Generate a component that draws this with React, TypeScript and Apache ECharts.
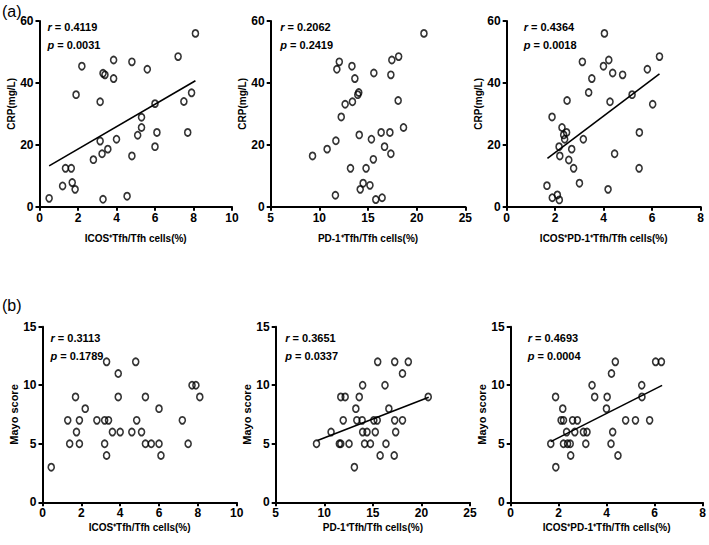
import React, { useEffect, useRef } from 'react';
import * as echarts from 'echarts';

// ---------- data ----------
// (a) CRP vs ICOS+ Tfh/Tfh
const crpIcos: number[][] = [
  [0.5, 2.7], [1.2, 6.7], [1.35, 12.4], [1.65, 12.4], [1.7, 7.8], [1.85, 5.6], [1.9, 36.2], [2.2, 45.4],
  [2.8, 15.2], [3.15, 33.9], [3.15, 21.2], [3.25, 17.1], [3.3, 2.4], [3.3, 43.1], [3.4, 42.6], [3.55, 18.6],
  [3.85, 47.4], [3.85, 41.4], [4.0, 21.8], [4.55, 3.4], [4.8, 16.4], [4.8, 46.8], [5.1, 23.1], [5.3, 25.6],
  [5.3, 28.9], [5.6, 44.4], [6.0, 19.4], [6.0, 33.3], [6.1, 24.0], [7.2, 48.5], [7.5, 34.0], [7.7, 24.0],
  [7.9, 36.8], [8.1, 56.0],
];
const crpIcosFit: number[][] = [[0.5, 13.2], [8.1, 40.7]];

// (a) CRP vs PD-1+ Tfh/Tfh
const crpPd1: number[][] = [
  [9.3, 16.4], [10.8, 18.6], [11.7, 21.3], [11.65, 3.7], [11.8, 44.4], [12.05, 46.8], [12.25, 29.0],
  [12.65, 33.1], [13.2, 12.4], [13.35, 45.4], [13.4, 33.9], [13.65, 41.4], [13.95, 36.2], [14.05, 36.9],
  [14.1, 23.2], [14.2, 5.6], [14.5, 7.6], [14.8, 12.4], [15.2, 6.9], [15.35, 21.8], [15.55, 15.3],
  [15.6, 43.2], [15.8, 2.3], [16.35, 24.0], [16.45, 2.9], [16.7, 19.4], [17.25, 24.0], [17.35, 42.6],
  [17.35, 17.1], [17.45, 47.4], [18.15, 48.5], [18.1, 34.3], [18.65, 25.6], [20.75, 56.0],
];

// (a) CRP vs ICOS+PD-1+ Tfh/Tfh
const crpDouble: number[][] = [
  [1.66, 6.8], [1.88, 2.9], [1.87, 29.0], [2.09, 3.8], [2.16, 19.4], [2.17, 2.2], [2.19, 16.4], [2.28, 25.6],
  [2.35, 23.2], [2.39, 21.8], [2.47, 24.0], [2.49, 34.3], [2.56, 15.1], [2.68, 18.6], [2.76, 12.4], [3.0, 7.6],
  [3.12, 46.8], [3.16, 21.8], [3.38, 36.9], [3.51, 41.4], [3.99, 45.4], [4.03, 56.0], [4.18, 5.6], [4.21, 47.4],
  [4.26, 33.9], [4.37, 43.2], [4.45, 17.1], [4.78, 42.6], [5.17, 36.2], [5.46, 12.4], [5.47, 24.0], [5.8, 44.4],
  [6.02, 33.1], [6.3, 48.5],
];
const crpDoubleFit: number[][] = [[1.68, 15.6], [6.3, 42.9]];

// (b) Mayo vs ICOS+ Tfh/Tfh
const mayoIcos: number[][] = [
  [0.45, 3], [1.3, 7], [1.4, 5], [1.7, 9], [1.75, 6], [1.9, 7], [1.9, 5], [2.2, 8], [2.8, 7], [3.2, 7],
  [3.2, 5], [3.3, 12], [3.3, 4], [3.4, 7], [3.6, 6], [3.9, 11], [3.9, 9], [4.0, 6], [4.6, 6], [4.8, 12],
  [4.85, 7], [5.1, 6], [5.3, 9], [5.3, 5], [5.6, 5], [6.0, 5], [6.0, 8], [6.1, 4], [7.2, 7], [7.5, 5],
  [7.7, 10], [7.9, 10], [8.1, 9],
];

// (b) Mayo vs PD-1+ Tfh/Tfh
const mayoPd1: number[][] = [
  [9.2, 5], [10.7, 6], [11.55, 5], [11.7, 5], [11.7, 9], [11.95, 7], [12.15, 9], [12.55, 5], [13.1, 3],
  [13.25, 8], [13.35, 7], [13.6, 9], [13.9, 7], [13.95, 10], [13.95, 6], [14.15, 5], [14.4, 6], [14.75, 5],
  [15.1, 7], [15.25, 6], [15.45, 7], [15.5, 12], [15.75, 4], [16.25, 10], [16.35, 5], [16.65, 8], [17.2, 4],
  [17.25, 12], [17.25, 7], [17.35, 6], [18.05, 11], [18.05, 7], [18.65, 12], [20.7, 9],
];
const mayoPd1Fit: number[][] = [[9.3, 5.27], [20.75, 8.97]];

// (b) Mayo vs ICOS+PD-1+ Tfh/Tfh
const mayoDouble: number[][] = [
  [1.67, 5], [1.87, 9], [1.88, 3], [2.1, 7], [2.17, 8], [2.2, 7], [2.2, 5], [2.33, 6], [2.37, 5], [2.48, 5],
  [2.5, 4], [2.58, 7], [2.67, 6], [2.78, 7], [3.03, 6], [3.13, 5], [3.18, 6], [3.39, 10], [3.5, 9], [4.02, 9],
  [3.99, 8], [4.18, 5], [4.2, 11], [4.25, 6], [4.36, 12], [4.47, 4], [4.79, 7], [5.2, 7], [5.46, 10],
  [5.47, 9], [5.79, 7], [6.04, 12], [6.28, 12],
];
const mayoDoubleFit: number[][] = [[1.67, 5.18], [6.31, 9.99]];

const rValues = ['0.4119', '0.2062', '0.4364', '0.3113', '0.3651', '0.4693'];
const pValues = ['0.0031', '0.2419', '0.0018', '0.1789', '0.0337', '0.0004'];
const xNames = [
  'ICOS⁺Tfh/Tfh cells(%)',
  'PD-1⁺Tfh/Tfh cells(%)',
  'ICOS⁺PD-1⁺Tfh/Tfh cells(%)',
];
const yNames = ['CRP(mg/L)', 'Mayo score'];
const panelLabels = ['(a)', '(b)'];

// ---------- layout ----------
const FONT_N = "'Liberation Sans Narrow','Liberation Sans',Arial,sans-serif";
const FONT = "'Liberation Sans',Arial,'DejaVu Sans',sans-serif";

const grids = [
  { left: 39.5, top: 21, width: 192.5, height: 185.7 },
  { left: 270.7, top: 21, width: 194.6, height: 185.7 },
  { left: 506.7, top: 21, width: 194, height: 185.7 },
  { left: 42.5, top: 326.7, width: 194.2, height: 175.6 },
  { left: 275.7, top: 326.7, width: 194.3, height: 175.6 },
  { left: 510.7, top: 326.7, width: 194.3, height: 175.6 },
];

const panels = [
  { data: crpIcos, fit: crpIcosFit, xMin: 0, xMax: 10, xInt: 2, yMax: 60, yInt: 20, xName: 0, yName: 0 },
  { data: crpPd1, fit: null, xMin: 5, xMax: 25, xInt: 5, yMax: 60, yInt: 20, xName: 1, yName: 0 },
  { data: crpDouble, fit: crpDoubleFit, xMin: 0, xMax: 8, xInt: 2, yMax: 60, yInt: 20, xName: 2, yName: 0 },
  { data: mayoIcos, fit: null, xMin: 0, xMax: 10, xInt: 2, yMax: 15, yInt: 5, xName: 0, yName: 1 },
  { data: mayoPd1, fit: mayoPd1Fit, xMin: 5, xMax: 25, xInt: 5, yMax: 15, yInt: 5, xName: 1, yName: 1 },
  { data: mayoDouble, fit: mayoDoubleFit, xMin: 0, xMax: 8, xInt: 2, yMax: 15, yInt: 5, xName: 2, yName: 1 },
];

export default function App() {
  const ref = useRef<HTMLDivElement>(null);
  useEffect(() => {
    document.body.style.margin = '0';
    const chart = echarts.init(ref.current!, null, { renderer: 'svg' });

    const axisLine = { show: true, onZero: false, lineStyle: { color: '#000', width: 2 } };
    const axisTick = { show: true, length: 4, inside: false, lineStyle: { color: '#000', width: 2 } };
    const axisLabel = { color: '#000', fontFamily: FONT_N, fontWeight: 'bold' as const, fontSize: 12 };

    const xAxis: any[] = [];
    const yAxis: any[] = [];
    const series: any[] = [];
    const graphic: any[] = [];

    panels.forEach((p, i) => {
      const top = i < 3;
      xAxis.push({
        gridIndex: i,
        type: 'value',
        min: p.xMin,
        max: p.xMax,
        interval: p.xInt,
        axisLine,
        axisTick,
        axisLabel: { ...axisLabel, margin: 5 },
        splitLine: { show: false },
        name: xNames[p.xName],
        nameLocation: 'middle',
        nameGap: top ? 27 : 20,
        nameTextStyle: { color: '#000', fontFamily: FONT_N, fontWeight: 'bold', fontSize: 10 },
      });
      yAxis.push({
        gridIndex: i,
        type: 'value',
        min: 0,
        max: p.yMax,
        interval: p.yInt,
        axisLine,
        axisTick,
        axisLabel: { ...axisLabel, margin: 6 },
        splitLine: { show: false },
        name: yNames[p.yName],
        nameLocation: 'middle',
        nameGap: 23,
        nameRotate: 90,
        nameTextStyle: {
          color: '#000',
          fontFamily: FONT,
          fontWeight: 'bold',
          fontSize: top ? 10 : 11,
          padding: top ? [0, 0, 0, 20] : [0, 0, 0, 0],
        },
      });
      series.push({
        type: 'scatter',
        xAxisIndex: i,
        yAxisIndex: i,
        data: p.data,
        symbol: 'circle',
        symbolSize: [6, 7],
        itemStyle: { color: 'rgba(0,0,0,0)', borderColor: '#000', borderWidth: 1.7 },
        z: 3,
      });
      if (p.fit) {
        series.push({
          type: 'line',
          xAxisIndex: i,
          yAxisIndex: i,
          data: p.fit,
          symbol: 'none',
          lineStyle: { color: '#000', width: 1.6 },
          z: 2,
        });
      }
      const g = grids[i];
      const tx = g.left + (i % 3 === 0 ? 8 : i % 3 === 1 ? 9.5 : 17);
      const ty = g.top + (top ? 0 : 6);
      const rich = {
        i: { fontFamily: FONT_N, fontWeight: 'bold', fontStyle: 'italic', fontSize: 11, fill: '#000' },
        n: { fontFamily: FONT_N, fontWeight: 'bold', fontSize: 11, fill: '#000' },
      };
      graphic.push({
        type: 'text',
        left: tx,
        top: ty,
        style: { text: `{i|r}{n| = ${rValues[i]}}`, rich },
      });
      graphic.push({
        type: 'text',
        left: tx,
        top: ty + 18,
        style: { text: `{i|p}{n| = ${pValues[i]}}`, rich },
      });
    });

    graphic.push({
      type: 'text',
      left: 2,
      top: 3,
      style: { text: panelLabels[0], fontFamily: FONT, fontSize: 16, fill: '#000' },
    });
    graphic.push({
      type: 'text',
      left: 2,
      top: 297,
      style: { text: panelLabels[1], fontFamily: FONT, fontSize: 16, fill: '#000' },
    });

    chart.setOption({
      animation: false,
      backgroundColor: '#fff',
      grid: grids.map((g) => ({ ...g, containLabel: false })),
      xAxis,
      yAxis,
      series,
      graphic,
    });
    return () => chart.dispose();
  }, []);
  return <div ref={ref} style={{ width: 709, height: 545 }} />;
}
